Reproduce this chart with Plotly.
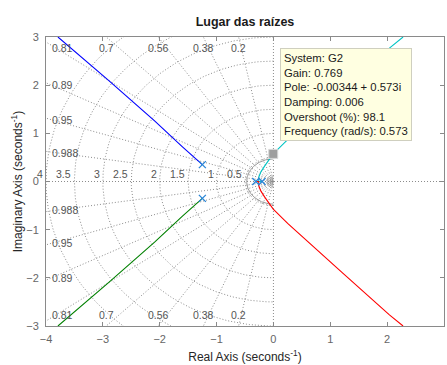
import numpy as np
import plotly.graph_objects as go

# ---- data ----
pole_re = [-1.25, -1.25, -0.31, -0.2]
pole_im = [0.35, -0.35, 0.0, 0.0]

blue_re = [-1.25, -1.6, -2.09, -2.9, -3.79]
blue_im = [0.35, 0.72, 1.26, 2.1, 3.0]
green_re = [-1.25, -1.6, -2.09, -2.9, -3.79]
green_im = [-0.35, -0.72, -1.26, -2.1, -3.0]
cyan_re = [-0.2, -0.26, -0.255, -0.22, -0.15, -0.08, -0.00344, 0.25, 0.556, 1.2, 2.04, 2.28]
cyan_im = [0.0, 0.0, 0.1, 0.2, 0.33, 0.45, 0.573, 0.87, 1.19, 1.88, 2.77, 3.0]
red_re = [-0.31, -0.26, -0.255, -0.22, -0.15, -0.08, -0.00344, 0.25, 0.556, 1.2, 2.04, 2.28]
red_im = [0.0, 0.0, -0.1, -0.2, -0.33, -0.45, -0.573, -0.87, -1.19, -1.88, -2.77, -3.0]

tip_re = [-0.00344]
tip_im = [0.573]
tip_lines = ["System: G2", "Gain: 0.769", "Pole: -0.00344 + 0.573i",
             "Damping: 0.006", "Overshoot (%): 98.1", "Frequency (rad/s): 0.573"]

damping_vals = [0.2, 0.38, 0.56, 0.7, 0.81, 0.89, 0.95, 0.988]
damping_labels = ["0.2", "0.38", "0.56", "0.7", "0.81", "0.89", "0.95", "0.988"]
wn_vals = [0.5, 1, 1.5, 2, 2.5, 3, 3.5, 4]
wn_labels = ["0.5", "1", "1.5", "2", "2.5", "3", "3.5", "4"]
inner_circles = [0.47, 0.1, 0.05]

x_ticks = [-4, -3, -2, -1, 0, 1, 2, 3]
y_ticks = [-3, -2, -1, 0, 1, 2, 3]
XMIN, XMAX, YMIN, YMAX = -4, 3, -3, 3

FONT = "Liberation Sans, Arial, sans-serif"
GRID = "#8c8c8c"
fig = go.Figure()

# ---- s-plane grid ----
gx, gy = [], []
for z in damping_vals:
    th = np.arccos(z)
    for s in (1, -1):
        gx += [0, -20 * np.cos(th), None]
        gy += [0, s * 20 * np.sin(th), None]
gx += [XMIN, XMAX, None, 0, 0, None]
gy += [0, 0, None, YMIN, YMAX, None]
ang = np.linspace(np.pi / 2, 3 * np.pi / 2, 181)
for w in wn_vals:
    gx += list(w * np.cos(ang)) + [None]
    gy += list(w * np.sin(ang)) + [None]
fig.add_trace(go.Scatter(x=gx, y=gy, mode="lines", hoverinfo="skip",
                         line=dict(color=GRID, width=1, dash="1px,2px")))
cx, cy = [], []
for w in inner_circles:
    cx += list(w * np.cos(ang)) + [None]
    cy += list(w * np.sin(ang)) + [None]
fig.add_trace(go.Scatter(x=cx, y=cy, mode="lines", hoverinfo="skip",
                         line=dict(color="#9a9a9a", width=1)))

# ---- locus branches ----
for xr, yi, col in [(blue_re, blue_im, "#0000ff"), (green_re, green_im, "#008000"),
                    (cyan_re, cyan_im, "#00c4c4"), (red_re, red_im, "#ff0000")]:
    fig.add_trace(go.Scatter(x=xr, y=yi, mode="lines", line=dict(color=col, width=1.1)))

fig.add_trace(go.Scatter(x=pole_re, y=pole_im, mode="markers",
                         marker=dict(symbol="x-thin", size=7, line=dict(color="#2b86d6", width=1.3))))
fig.add_trace(go.Scatter(x=tip_re, y=tip_im, mode="markers",
                         marker=dict(symbol="square", size=9, color="#9e9e9e",
                                     line=dict(color="#d8d8d8", width=1))))

ann = []
GL = dict(family=FONT, size=10.5, color="#555555")
for z, lab in zip(damping_vals, damping_labels):
    th = np.arccos(z)
    t = np.tan(th)
    xi = -YMAX / t
    for s in (1, -1):
        if xi > XMIN + 0.25:
            ann.append(dict(x=xi, y=s * 2.77, text=lab, showarrow=False, font=GL,
                            xanchor="center", yanchor="middle"))
        else:
            yi = min(-XMIN * t - 0.04, 2.77)
            ann.append(dict(x=XMIN, y=s * yi, text=lab, showarrow=False, font=GL,
                            xanchor="left", yanchor="middle", xshift=4))
for w, lab in zip(wn_vals, wn_labels):
    ann.append(dict(x=-w, y=0, text=lab, showarrow=False, font=GL,
                    xanchor="right", yanchor="bottom", xshift=-1, yshift=0))

ann.append(dict(xref="paper", yref="paper", x=(280 - 46) / 398, y=(326 - 48) / 289,
                xanchor="left", yanchor="top", align="left", showarrow=False,
                text="<br>".join(tip_lines), bgcolor="#ffffe1", bordercolor="#cfcfbf",
                borderwidth=1, borderpad=3,
                font=dict(family=FONT, size=11.3, color="#1a1a1a")))

ax_common = dict(showgrid=False, zeroline=False, showline=True, linecolor="#8a8a8a", linewidth=1,
                 mirror="ticks", ticks="inside", ticklen=4, tickcolor="#8a8a8a", automargin=False,
                 tickfont=dict(family=FONT, size=11, color="#666666"))
fig.update_layout(
    width=447, height=365, margin=dict(l=46, r=3, t=37, b=39, autoexpand=False),
    paper_bgcolor="white", plot_bgcolor="white", showlegend=False,
    title=dict(text="<b>Lugar das raízes</b>", x=(46 + 444) / 2 / 447, xanchor="center",
               y=1 - 22 / 365, yanchor="middle", automargin=False,
               font=dict(family=FONT, size=12.5, color="#1a1a1a")),
    xaxis=dict(range=[XMIN, XMAX], tickvals=x_ticks, ticklabelstandoff=3,
               title=dict(text="Real Axis (seconds<sup>-1</sup>)", standoff=8,
                          font=dict(family=FONT, size=12, color="#262626")),
               **ax_common),
    yaxis=dict(range=[YMIN, YMAX], tickvals=y_ticks, ticklabelstandoff=4,
               title=dict(text="Imaginary Axis (seconds<sup>-1</sup>)", standoff=1,
                          font=dict(family=FONT, size=12, color="#262626")),
               **ax_common),
    annotations=ann,
)
fig.write_html("out.html", config={"displayModeBar": False},
               post_script="document.body.style.margin='0px';document.body.style.overflow='hidden';")
